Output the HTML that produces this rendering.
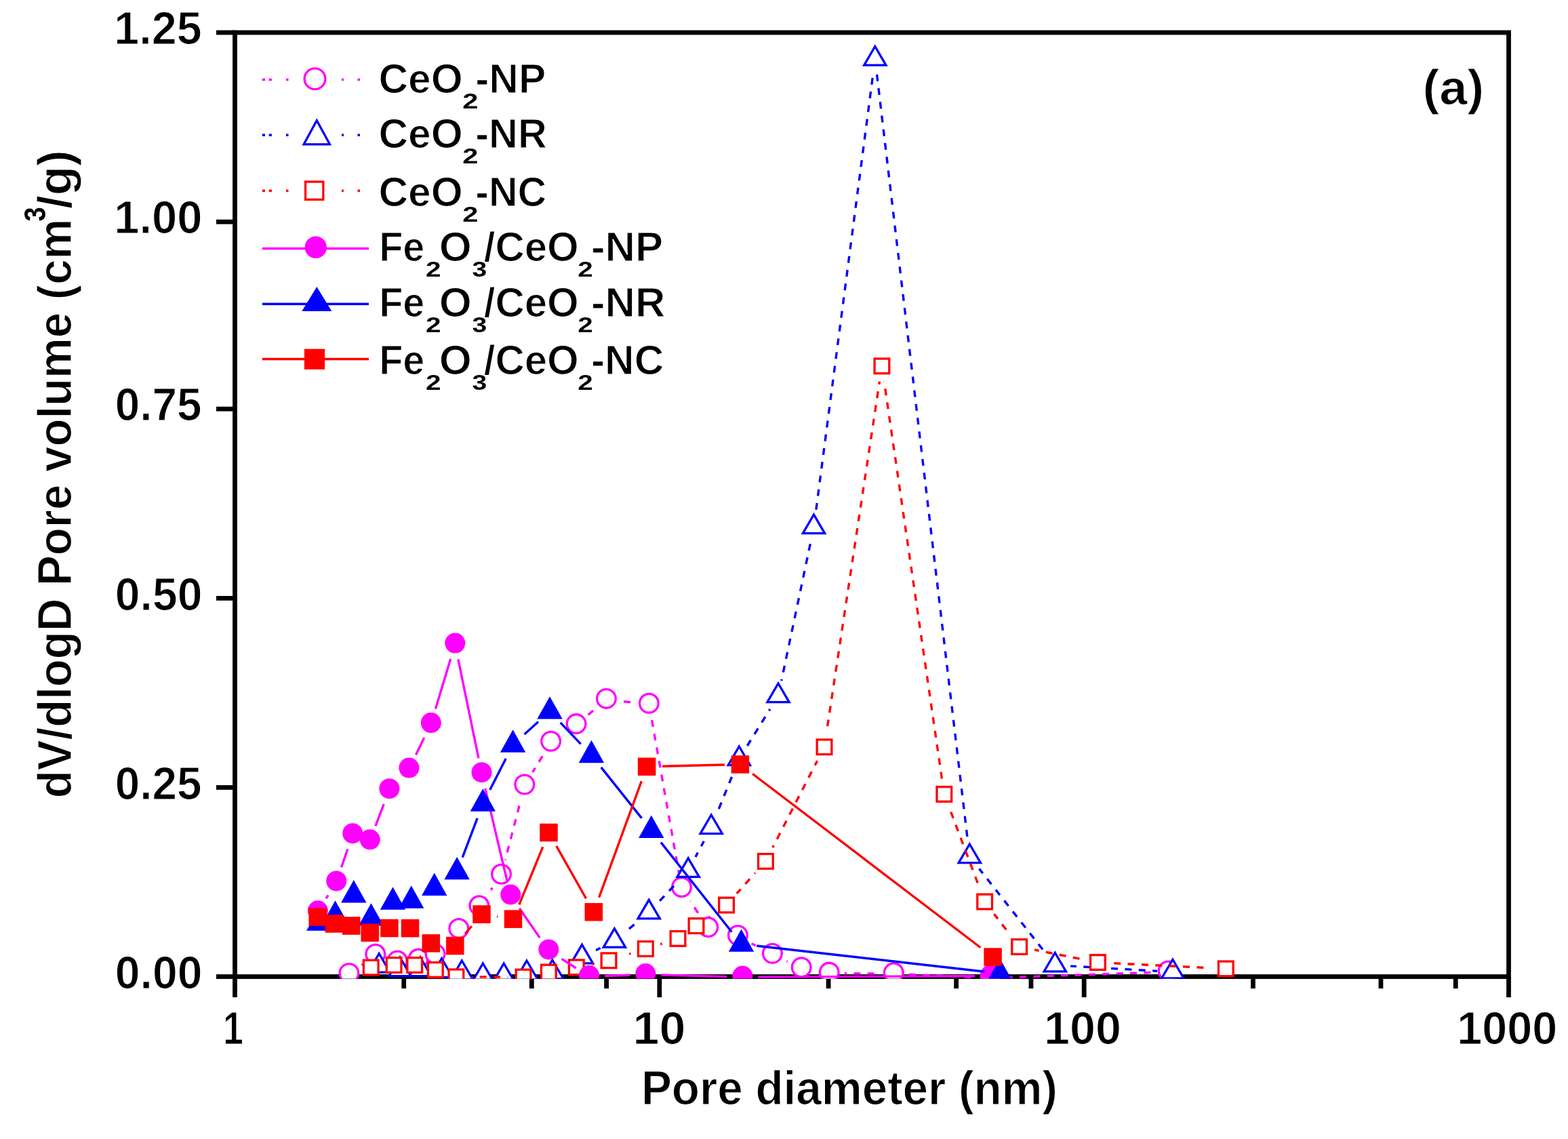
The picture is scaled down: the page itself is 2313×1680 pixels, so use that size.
<!DOCTYPE html><html><head><meta charset="utf-8"><title>Pore size distribution</title>
<style>html,body{margin:0;padding:0;background:#fff;overflow:hidden;}svg{display:block;}text{font-family:'Liberation Sans', Arial, sans-serif;font-weight:bold;fill:#000;stroke:#fff;stroke-width:1.2px;}</style></head><body>
<svg width="2313" height="1680" viewBox="0 0 2313 1680">
<rect width="2313" height="1680" fill="#fff"/>
<g stroke="#000" stroke-width="6.8" fill="none" stroke-linecap="butt">
<line x1="319" y1="1440.5" x2="346.5" y2="1440.5"/>
<line x1="319" y1="1161.5" x2="346.5" y2="1161.5"/>
<line x1="319" y1="882.4" x2="346.5" y2="882.4"/>
<line x1="319" y1="603.2" x2="346.5" y2="603.2"/>
<line x1="319" y1="327.2" x2="346.5" y2="327.2"/>
<line x1="319" y1="48" x2="346.5" y2="48"/>
<line x1="346.5" y1="1440.5" x2="346.5" y2="1471"/>
<line x1="595.74" y1="1440.5" x2="595.74" y2="1458"/>
<line x1="784.29" y1="1440.5" x2="784.29" y2="1458"/>
<line x1="894.58" y1="1440.5" x2="894.58" y2="1458"/>
<line x1="972.83" y1="1440.5" x2="972.83" y2="1471"/>
<line x1="1222.08" y1="1440.5" x2="1222.08" y2="1458"/>
<line x1="1410.62" y1="1440.5" x2="1410.62" y2="1458"/>
<line x1="1520.91" y1="1440.5" x2="1520.91" y2="1458"/>
<line x1="1599.17" y1="1440.5" x2="1599.17" y2="1471"/>
<line x1="1848.41" y1="1440.5" x2="1848.41" y2="1458"/>
<line x1="2036.95" y1="1440.5" x2="2036.95" y2="1458"/>
<line x1="2147.25" y1="1440.5" x2="2147.25" y2="1458"/>
<line x1="2225.5" y1="1440.5" x2="2225.5" y2="1471"/>
<rect x="346.5" y="48" width="1879" height="1392.5"/>
</g>
<text x="169.78" y="1457.6" font-size="68.8" textLength="128.73" lengthAdjust="spacingAndGlyphs">0.00</text>
<text x="169.8" y="1178.6" font-size="68.8" textLength="127.83" lengthAdjust="spacingAndGlyphs">0.25</text>
<text x="169.78" y="899.5" font-size="68.8" textLength="128.73" lengthAdjust="spacingAndGlyphs">0.50</text>
<text x="169.8" y="620.3" font-size="68.8" textLength="127.83" lengthAdjust="spacingAndGlyphs">0.75</text>
<text x="168.18" y="344.3" font-size="68.8" textLength="130.37" lengthAdjust="spacingAndGlyphs">1.00</text>
<text x="168.21" y="65.1" font-size="68.8" textLength="129.44" lengthAdjust="spacingAndGlyphs">1.25</text>
<text x="329.02" y="1540.2" font-size="68.8" textLength="29.88" lengthAdjust="spacingAndGlyphs">1</text>
<text x="933.59" y="1540.2" font-size="68.8" textLength="77.88" lengthAdjust="spacingAndGlyphs">10</text>
<text x="1539.9" y="1540.2" font-size="68.8" textLength="114.01" lengthAdjust="spacingAndGlyphs">100</text>
<text x="2149.21" y="1540.2" font-size="68.8" textLength="148.13" lengthAdjust="spacingAndGlyphs">1000</text>
<text x="945.89" y="1628.8" font-size="71.2" textLength="614.06" lengthAdjust="spacingAndGlyphs">Pore diameter (nm)</text>
<g transform="rotate(-90)"><text x="-1177.35" y="105.3" font-size="71.2" textLength="854.62" lengthAdjust="spacingAndGlyphs">dV/dlogD Pore volume (cm</text><text x="-326.57" y="66.5" font-size="44" textLength="21.15" lengthAdjust="spacingAndGlyphs" style="stroke:none">3</text><text x="-308.09" y="105.3" font-size="71.2" textLength="86.73" lengthAdjust="spacingAndGlyphs">/g)</text></g>
<text x="2098.6" y="154.2" font-size="71.5" textLength="90.69" lengthAdjust="spacingAndGlyphs">(a)</text>
<defs><clipPath id="plotclip"><rect x="343" y="44" width="1886" height="1399.5"/></clipPath><mask id="mk0" maskUnits="userSpaceOnUse" x="0" y="0" width="2313" height="1680"><rect width="2313" height="1680" fill="#fff"/><circle cx="514.9" cy="1437" r="23" fill="#000"/><circle cx="553.8" cy="1408.8" r="23" fill="#000"/><circle cx="586.2" cy="1418.5" r="23" fill="#000"/><circle cx="617.1" cy="1415.6" r="23" fill="#000"/><circle cx="642" cy="1408.5" r="23" fill="#000"/><circle cx="676.8" cy="1371" r="23" fill="#000"/><circle cx="706.9" cy="1337.3" r="23" fill="#000"/><circle cx="739.5" cy="1290.8" r="23" fill="#000"/><circle cx="773.8" cy="1158.5" r="23" fill="#000"/><circle cx="812.6" cy="1094.8" r="23" fill="#000"/><circle cx="850.1" cy="1069.1" r="23" fill="#000"/><circle cx="894.4" cy="1031.9" r="23" fill="#000"/><circle cx="957.4" cy="1038.8" r="23" fill="#000"/><circle cx="1005.5" cy="1310" r="23" fill="#000"/><circle cx="1044.7" cy="1369.1" r="23" fill="#000"/><circle cx="1088.4" cy="1381" r="23" fill="#000"/><circle cx="1139.4" cy="1407.8" r="23" fill="#000"/><circle cx="1182.2" cy="1428.3" r="23" fill="#000"/><circle cx="1223.2" cy="1435.6" r="23" fill="#000"/><circle cx="1318.3" cy="1436.3" r="23" fill="#000"/><circle cx="1461" cy="1442.5" r="23" fill="#000"/><circle cx="1723.2" cy="1433.5" r="23" fill="#000"/></mask><mask id="mk1" maskUnits="userSpaceOnUse" x="0" y="0" width="2313" height="1680"><rect width="2313" height="1680" fill="#fff"/><circle cx="559.2" cy="1424.9" r="23" fill="#000"/><circle cx="590" cy="1430.4" r="23" fill="#000"/><circle cx="620" cy="1430.4" r="23" fill="#000"/><circle cx="651.5" cy="1432.1" r="23" fill="#000"/><circle cx="681.3" cy="1435.4" r="23" fill="#000"/><circle cx="712.4" cy="1439.4" r="23" fill="#000"/><circle cx="743.2" cy="1439.4" r="23" fill="#000"/><circle cx="777" cy="1435.4" r="23" fill="#000"/><circle cx="814.8" cy="1434.4" r="23" fill="#000"/><circle cx="858.5" cy="1411.7" r="23" fill="#000"/><circle cx="906.4" cy="1388" r="23" fill="#000"/><circle cx="957.2" cy="1345.7" r="23" fill="#000"/><circle cx="1015.2" cy="1284.2" r="23" fill="#000"/><circle cx="1049.2" cy="1220.4" r="23" fill="#000"/><circle cx="1090.3" cy="1119.4" r="23" fill="#000"/><circle cx="1148" cy="1026.4" r="23" fill="#000"/><circle cx="1200.5" cy="777.4" r="23" fill="#000"/><circle cx="1290.8" cy="86.9" r="23" fill="#000"/><circle cx="1430.3" cy="1263.4" r="23" fill="#000"/><circle cx="1556.3" cy="1423.6" r="23" fill="#000"/><circle cx="1729.9" cy="1433.6" r="23" fill="#000"/></mask><mask id="mk2" maskUnits="userSpaceOnUse" x="0" y="0" width="2313" height="1680"><rect width="2313" height="1680" fill="#fff"/><circle cx="547.2" cy="1427.1" r="23" fill="#000"/><circle cx="581.1" cy="1423.5" r="23" fill="#000"/><circle cx="611.7" cy="1423.5" r="23" fill="#000"/><circle cx="642.3" cy="1430.4" r="23" fill="#000"/><circle cx="672.9" cy="1440.8" r="23" fill="#000"/><circle cx="772" cy="1441" r="23" fill="#000"/><circle cx="809.3" cy="1434" r="23" fill="#000"/><circle cx="850.3" cy="1426.8" r="23" fill="#000"/><circle cx="898" cy="1416.8" r="23" fill="#000"/><circle cx="952.3" cy="1399.5" r="23" fill="#000"/><circle cx="1000" cy="1384.4" r="23" fill="#000"/><circle cx="1027" cy="1365.6" r="23" fill="#000"/><circle cx="1071.5" cy="1335" r="23" fill="#000"/><circle cx="1129.4" cy="1270.4" r="23" fill="#000"/><circle cx="1216" cy="1101.8" r="23" fill="#000"/><circle cx="1300.9" cy="539.9" r="23" fill="#000"/><circle cx="1392.8" cy="1171.4" r="23" fill="#000"/><circle cx="1452.6" cy="1330" r="23" fill="#000"/><circle cx="1503.6" cy="1396.5" r="23" fill="#000"/><circle cx="1619.4" cy="1419.5" r="23" fill="#000"/><circle cx="1808.3" cy="1428.9" r="23" fill="#000"/></mask><mask id="mk3" maskUnits="userSpaceOnUse" x="0" y="0" width="2313" height="1680"><rect width="2313" height="1680" fill="#fff"/><circle cx="468.9" cy="1344.8" r="23" fill="#000"/><circle cx="496.2" cy="1300.9" r="23" fill="#000"/><circle cx="520.2" cy="1230.7" r="23" fill="#000"/><circle cx="545.7" cy="1239.8" r="23" fill="#000"/><circle cx="574.4" cy="1164.7" r="23" fill="#000"/><circle cx="603.4" cy="1134.1" r="23" fill="#000"/><circle cx="635.8" cy="1067.6" r="23" fill="#000"/><circle cx="671.3" cy="950.1" r="23" fill="#000"/><circle cx="710.5" cy="1140.7" r="23" fill="#000"/><circle cx="753.2" cy="1321" r="23" fill="#000"/><circle cx="809.3" cy="1401.9" r="23" fill="#000"/><circle cx="869" cy="1440.2" r="23" fill="#000"/><circle cx="952.3" cy="1437.5" r="23" fill="#000"/><circle cx="1095.3" cy="1441.1" r="23" fill="#000"/><circle cx="1461" cy="1439.5" r="23" fill="#000"/></mask><mask id="mk4" maskUnits="userSpaceOnUse" x="0" y="0" width="2313" height="1680"><rect width="2313" height="1680" fill="#fff"/><circle cx="470.7" cy="1361.4" r="23" fill="#000"/><circle cx="494.5" cy="1350.4" r="23" fill="#000"/><circle cx="521.8" cy="1320.1" r="23" fill="#000"/><circle cx="547.4" cy="1354.3" r="23" fill="#000"/><circle cx="579.5" cy="1330.4" r="23" fill="#000"/><circle cx="606.7" cy="1328.4" r="23" fill="#000"/><circle cx="640.7" cy="1309.7" r="23" fill="#000"/><circle cx="674.1" cy="1286" r="23" fill="#000"/><circle cx="712.3" cy="1185.4" r="23" fill="#000"/><circle cx="756.6" cy="1098.4" r="23" fill="#000"/><circle cx="811" cy="1049.3" r="23" fill="#000"/><circle cx="872.4" cy="1113.9" r="23" fill="#000"/><circle cx="960.8" cy="1224.6" r="23" fill="#000"/><circle cx="1093.5" cy="1392.5" r="23" fill="#000"/><circle cx="1475" cy="1435.8" r="23" fill="#000"/></mask><mask id="mk5" maskUnits="userSpaceOnUse" x="0" y="0" width="2313" height="1680"><rect width="2313" height="1680" fill="#fff"/><circle cx="468.7" cy="1352.4" r="23" fill="#000"/><circle cx="492.8" cy="1362.4" r="23" fill="#000"/><circle cx="518.2" cy="1365.5" r="23" fill="#000"/><circle cx="545.7" cy="1375.7" r="23" fill="#000"/><circle cx="574.4" cy="1369" r="23" fill="#000"/><circle cx="605" cy="1369.1" r="23" fill="#000"/><circle cx="635.8" cy="1391.3" r="23" fill="#000"/><circle cx="671.3" cy="1395" r="23" fill="#000"/><circle cx="710.5" cy="1348.5" r="23" fill="#000"/><circle cx="757" cy="1355.6" r="23" fill="#000"/><circle cx="809.5" cy="1228" r="23" fill="#000"/><circle cx="875.8" cy="1345.2" r="23" fill="#000"/><circle cx="954.1" cy="1130.8" r="23" fill="#000"/><circle cx="1091.9" cy="1127.5" r="23" fill="#000"/><circle cx="1464.6" cy="1411.5" r="23" fill="#000"/></mask></defs>
<g clip-path="url(#plotclip)">
<path d="M514.9,1437 L553.8,1408.8 L586.2,1418.5 L617.1,1415.6 L642,1408.5 L676.8,1371 L706.9,1337.3 L739.5,1290.8 L773.8,1158.5 L812.6,1094.8 L850.1,1069.1 L894.4,1031.9 L957.4,1038.8 L1005.5,1310 L1044.7,1369.1 L1088.4,1381 L1139.4,1407.8 L1182.2,1428.3 L1223.2,1435.6 L1318.3,1436.3 L1461,1442.5 L1723.2,1433.5" fill="none" stroke="#ff00ff" stroke-width="3.4" stroke-dasharray="10 10.4" mask="url(#mk0)"/>
<circle cx="514.9" cy="1435.5" r="13.85" fill="#fff" stroke="#ff00ff" stroke-width="3.3"/><circle cx="553.8" cy="1407.3" r="13.85" fill="#fff" stroke="#ff00ff" stroke-width="3.3"/><circle cx="586.2" cy="1417" r="13.85" fill="#fff" stroke="#ff00ff" stroke-width="3.3"/><circle cx="617.1" cy="1414.1" r="13.85" fill="#fff" stroke="#ff00ff" stroke-width="3.3"/><circle cx="642" cy="1407" r="13.85" fill="#fff" stroke="#ff00ff" stroke-width="3.3"/><circle cx="676.8" cy="1369.5" r="13.85" fill="#fff" stroke="#ff00ff" stroke-width="3.3"/><circle cx="706.9" cy="1335.8" r="13.85" fill="#fff" stroke="#ff00ff" stroke-width="3.3"/><circle cx="739.5" cy="1289.3" r="13.85" fill="#fff" stroke="#ff00ff" stroke-width="3.3"/><circle cx="773.8" cy="1157" r="13.85" fill="#fff" stroke="#ff00ff" stroke-width="3.3"/><circle cx="812.6" cy="1093.3" r="13.85" fill="#fff" stroke="#ff00ff" stroke-width="3.3"/><circle cx="850.1" cy="1067.6" r="13.85" fill="#fff" stroke="#ff00ff" stroke-width="3.3"/><circle cx="894.4" cy="1030.4" r="13.85" fill="#fff" stroke="#ff00ff" stroke-width="3.3"/><circle cx="957.4" cy="1037.3" r="13.85" fill="#fff" stroke="#ff00ff" stroke-width="3.3"/><circle cx="1005.5" cy="1308.5" r="13.85" fill="#fff" stroke="#ff00ff" stroke-width="3.3"/><circle cx="1044.7" cy="1367.6" r="13.85" fill="#fff" stroke="#ff00ff" stroke-width="3.3"/><circle cx="1088.4" cy="1379.5" r="13.85" fill="#fff" stroke="#ff00ff" stroke-width="3.3"/><circle cx="1139.4" cy="1406.3" r="13.85" fill="#fff" stroke="#ff00ff" stroke-width="3.3"/><circle cx="1182.2" cy="1426.8" r="13.85" fill="#fff" stroke="#ff00ff" stroke-width="3.3"/><circle cx="1223.2" cy="1434.1" r="13.85" fill="#fff" stroke="#ff00ff" stroke-width="3.3"/><circle cx="1318.3" cy="1434.8" r="13.85" fill="#fff" stroke="#ff00ff" stroke-width="3.3"/><circle cx="1461" cy="1441" r="13.85" fill="#fff" stroke="#ff00ff" stroke-width="3.3"/><circle cx="1723.2" cy="1432" r="13.85" fill="#fff" stroke="#ff00ff" stroke-width="3.3"/>
<path d="M559.2,1424.9 L590,1430.4 L620,1430.4 L651.5,1432.1 L681.3,1435.4 L712.4,1439.4 L743.2,1439.4 L777,1435.4 L814.8,1434.4 L858.5,1411.7 L906.4,1388 L957.2,1345.7 L1015.2,1284.2 L1049.2,1220.4 L1090.3,1119.4 L1148,1026.4 L1200.5,777.4 L1290.8,86.9 L1430.3,1263.4 L1556.3,1423.6 L1729.9,1433.6" fill="none" stroke="#0000ff" stroke-width="3.4" stroke-dasharray="10 10.4" mask="url(#mk1)"/>
<polygon points="559.2,1406.52 575.34,1434.08 543.06,1434.08" fill="#fff" stroke="#0000ff" stroke-width="3.3" stroke-linejoin="miter" stroke-miterlimit="6"/><polygon points="590,1412.02 606.14,1439.58 573.86,1439.58" fill="#fff" stroke="#0000ff" stroke-width="3.3" stroke-linejoin="miter" stroke-miterlimit="6"/><polygon points="620,1412.02 636.14,1439.58 603.86,1439.58" fill="#fff" stroke="#0000ff" stroke-width="3.3" stroke-linejoin="miter" stroke-miterlimit="6"/><polygon points="651.5,1413.72 667.64,1441.28 635.36,1441.28" fill="#fff" stroke="#0000ff" stroke-width="3.3" stroke-linejoin="miter" stroke-miterlimit="6"/><polygon points="681.3,1417.02 697.44,1444.58 665.16,1444.58" fill="#fff" stroke="#0000ff" stroke-width="3.3" stroke-linejoin="miter" stroke-miterlimit="6"/><polygon points="712.4,1421.02 728.54,1448.58 696.26,1448.58" fill="#fff" stroke="#0000ff" stroke-width="3.3" stroke-linejoin="miter" stroke-miterlimit="6"/><polygon points="743.2,1421.02 759.34,1448.58 727.06,1448.58" fill="#fff" stroke="#0000ff" stroke-width="3.3" stroke-linejoin="miter" stroke-miterlimit="6"/><polygon points="777,1417.02 793.14,1444.58 760.86,1444.58" fill="#fff" stroke="#0000ff" stroke-width="3.3" stroke-linejoin="miter" stroke-miterlimit="6"/><polygon points="814.8,1416.02 830.94,1443.58 798.66,1443.58" fill="#fff" stroke="#0000ff" stroke-width="3.3" stroke-linejoin="miter" stroke-miterlimit="6"/><polygon points="858.5,1393.32 874.64,1420.88 842.36,1420.88" fill="#fff" stroke="#0000ff" stroke-width="3.3" stroke-linejoin="miter" stroke-miterlimit="6"/><polygon points="906.4,1369.62 922.54,1397.17 890.26,1397.17" fill="#fff" stroke="#0000ff" stroke-width="3.3" stroke-linejoin="miter" stroke-miterlimit="6"/><polygon points="957.2,1327.32 973.34,1354.88 941.06,1354.88" fill="#fff" stroke="#0000ff" stroke-width="3.3" stroke-linejoin="miter" stroke-miterlimit="6"/><polygon points="1015.2,1265.82 1031.34,1293.38 999.06,1293.38" fill="#fff" stroke="#0000ff" stroke-width="3.3" stroke-linejoin="miter" stroke-miterlimit="6"/><polygon points="1049.2,1202.02 1065.34,1229.58 1033.06,1229.58" fill="#fff" stroke="#0000ff" stroke-width="3.3" stroke-linejoin="miter" stroke-miterlimit="6"/><polygon points="1090.3,1101.02 1106.44,1128.58 1074.16,1128.58" fill="#fff" stroke="#0000ff" stroke-width="3.3" stroke-linejoin="miter" stroke-miterlimit="6"/><polygon points="1148,1008.02 1164.14,1035.58 1131.86,1035.58" fill="#fff" stroke="#0000ff" stroke-width="3.3" stroke-linejoin="miter" stroke-miterlimit="6"/><polygon points="1200.5,759.02 1216.64,786.57 1184.36,786.57" fill="#fff" stroke="#0000ff" stroke-width="3.3" stroke-linejoin="miter" stroke-miterlimit="6"/><polygon points="1290.8,68.52 1306.94,96.08 1274.66,96.08" fill="#fff" stroke="#0000ff" stroke-width="3.3" stroke-linejoin="miter" stroke-miterlimit="6"/><polygon points="1430.3,1245.02 1446.44,1272.58 1414.16,1272.58" fill="#fff" stroke="#0000ff" stroke-width="3.3" stroke-linejoin="miter" stroke-miterlimit="6"/><polygon points="1556.3,1405.22 1572.44,1432.78 1540.16,1432.78" fill="#fff" stroke="#0000ff" stroke-width="3.3" stroke-linejoin="miter" stroke-miterlimit="6"/><polygon points="1729.9,1415.22 1746.04,1442.78 1713.76,1442.78" fill="#fff" stroke="#0000ff" stroke-width="3.3" stroke-linejoin="miter" stroke-miterlimit="6"/>
<path d="M547.2,1427.1 L581.1,1423.5 L611.7,1423.5 L642.3,1430.4 L672.9,1440.8 L772,1441 L809.3,1434 L850.3,1426.8 L898,1416.8 L952.3,1399.5 L1000,1384.4 L1027,1365.6 L1071.5,1335 L1129.4,1270.4 L1216,1101.8 L1300.9,539.9 L1392.8,1171.4 L1452.6,1330 L1503.6,1396.5 L1619.4,1419.5 L1808.3,1428.9" fill="none" stroke="#ff0000" stroke-width="3.4" stroke-dasharray="10 10.4" mask="url(#mk2)"/>
<rect x="536.35" y="1416.25" width="21.7" height="21.7" fill="#fff" stroke="#ff0000" stroke-width="3.3"/><rect x="570.25" y="1412.65" width="21.7" height="21.7" fill="#fff" stroke="#ff0000" stroke-width="3.3"/><rect x="600.85" y="1412.65" width="21.7" height="21.7" fill="#fff" stroke="#ff0000" stroke-width="3.3"/><rect x="631.45" y="1419.55" width="21.7" height="21.7" fill="#fff" stroke="#ff0000" stroke-width="3.3"/><rect x="662.05" y="1429.95" width="21.7" height="21.7" fill="#fff" stroke="#ff0000" stroke-width="3.3"/><rect x="761.15" y="1430.15" width="21.7" height="21.7" fill="#fff" stroke="#ff0000" stroke-width="3.3"/><rect x="798.45" y="1423.15" width="21.7" height="21.7" fill="#fff" stroke="#ff0000" stroke-width="3.3"/><rect x="839.45" y="1415.95" width="21.7" height="21.7" fill="#fff" stroke="#ff0000" stroke-width="3.3"/><rect x="887.15" y="1405.95" width="21.7" height="21.7" fill="#fff" stroke="#ff0000" stroke-width="3.3"/><rect x="941.45" y="1388.65" width="21.7" height="21.7" fill="#fff" stroke="#ff0000" stroke-width="3.3"/><rect x="989.15" y="1373.55" width="21.7" height="21.7" fill="#fff" stroke="#ff0000" stroke-width="3.3"/><rect x="1016.15" y="1354.75" width="21.7" height="21.7" fill="#fff" stroke="#ff0000" stroke-width="3.3"/><rect x="1060.65" y="1324.15" width="21.7" height="21.7" fill="#fff" stroke="#ff0000" stroke-width="3.3"/><rect x="1118.55" y="1259.55" width="21.7" height="21.7" fill="#fff" stroke="#ff0000" stroke-width="3.3"/><rect x="1205.15" y="1090.95" width="21.7" height="21.7" fill="#fff" stroke="#ff0000" stroke-width="3.3"/><rect x="1290.05" y="529.05" width="21.7" height="21.7" fill="#fff" stroke="#ff0000" stroke-width="3.3"/><rect x="1381.95" y="1160.55" width="21.7" height="21.7" fill="#fff" stroke="#ff0000" stroke-width="3.3"/><rect x="1441.75" y="1319.15" width="21.7" height="21.7" fill="#fff" stroke="#ff0000" stroke-width="3.3"/><rect x="1492.75" y="1385.65" width="21.7" height="21.7" fill="#fff" stroke="#ff0000" stroke-width="3.3"/><rect x="1608.55" y="1408.65" width="21.7" height="21.7" fill="#fff" stroke="#ff0000" stroke-width="3.3"/><rect x="1797.45" y="1418.05" width="21.7" height="21.7" fill="#fff" stroke="#ff0000" stroke-width="3.3"/>
<path d="M468.9,1344.8 L496.2,1300.9 L520.2,1230.7 L545.7,1239.8 L574.4,1164.7 L603.4,1134.1 L635.8,1067.6 L671.3,950.1 L710.5,1140.7 L753.2,1321 L809.3,1401.9 L869,1440.2 L952.3,1437.5 L1095.3,1441.1 L1461,1439.5" fill="none" stroke="#ff00ff" stroke-width="3.4" stroke-linejoin="round" mask="url(#mk3)"/>
<circle cx="468.9" cy="1343.3" r="15" fill="#ff00ff"/><circle cx="496.2" cy="1299.4" r="15" fill="#ff00ff"/><circle cx="520.2" cy="1229.2" r="15" fill="#ff00ff"/><circle cx="545.7" cy="1238.3" r="15" fill="#ff00ff"/><circle cx="574.4" cy="1163.2" r="15" fill="#ff00ff"/><circle cx="603.4" cy="1132.6" r="15" fill="#ff00ff"/><circle cx="635.8" cy="1066.1" r="15" fill="#ff00ff"/><circle cx="671.3" cy="948.6" r="15" fill="#ff00ff"/><circle cx="710.5" cy="1139.2" r="15" fill="#ff00ff"/><circle cx="753.2" cy="1319.5" r="15" fill="#ff00ff"/><circle cx="809.3" cy="1400.4" r="15" fill="#ff00ff"/><circle cx="869" cy="1438.7" r="15" fill="#ff00ff"/><circle cx="952.3" cy="1436" r="15" fill="#ff00ff"/><circle cx="1095.3" cy="1439.6" r="15" fill="#ff00ff"/><circle cx="1461" cy="1438" r="15" fill="#ff00ff"/>
<path d="M470.7,1361.4 L494.5,1350.4 L521.8,1320.1 L547.4,1354.3 L579.5,1330.4 L606.7,1328.4 L640.7,1309.7 L674.1,1286 L712.3,1185.4 L756.6,1098.4 L811,1049.3 L872.4,1113.9 L960.8,1224.6 L1093.5,1392.5 L1475,1435.8" fill="none" stroke="#0000ff" stroke-width="3.4" stroke-linejoin="round" mask="url(#mk4)"/>
<polygon points="470.7,1339.3 489.4,1372.7 452,1372.7" fill="#0000ff"/><polygon points="494.5,1328.3 513.2,1361.7 475.8,1361.7" fill="#0000ff"/><polygon points="521.8,1298 540.5,1331.4 503.1,1331.4" fill="#0000ff"/><polygon points="547.4,1332.2 566.1,1365.6 528.7,1365.6" fill="#0000ff"/><polygon points="579.5,1308.3 598.2,1341.7 560.8,1341.7" fill="#0000ff"/><polygon points="606.7,1306.3 625.4,1339.7 588,1339.7" fill="#0000ff"/><polygon points="640.7,1287.6 659.4,1321 622,1321" fill="#0000ff"/><polygon points="674.1,1263.9 692.8,1297.3 655.4,1297.3" fill="#0000ff"/><polygon points="712.3,1163.3 731,1196.7 693.6,1196.7" fill="#0000ff"/><polygon points="756.6,1076.3 775.3,1109.7 737.9,1109.7" fill="#0000ff"/><polygon points="811,1027.2 829.7,1060.6 792.3,1060.6" fill="#0000ff"/><polygon points="872.4,1091.8 891.1,1125.2 853.7,1125.2" fill="#0000ff"/><polygon points="960.8,1202.5 979.5,1235.9 942.1,1235.9" fill="#0000ff"/><polygon points="1093.5,1370.4 1112.2,1403.8 1074.8,1403.8" fill="#0000ff"/><polygon points="1475,1413.7 1493.7,1447.1 1456.3,1447.1" fill="#0000ff"/>
<path d="M468.7,1352.4 L492.8,1362.4 L518.2,1365.5 L545.7,1375.7 L574.4,1369 L605,1369.1 L635.8,1391.3 L671.3,1395 L710.5,1348.5 L757,1355.6 L809.5,1228 L875.8,1345.2 L954.1,1130.8 L1091.9,1127.5 L1464.6,1411.5" fill="none" stroke="#ff0000" stroke-width="3.4" stroke-linejoin="round" mask="url(#mk5)"/>
<rect x="455.45" y="1339.15" width="26.5" height="26.5" fill="#ff0000"/><rect x="479.55" y="1349.15" width="26.5" height="26.5" fill="#ff0000"/><rect x="504.95" y="1352.25" width="26.5" height="26.5" fill="#ff0000"/><rect x="532.45" y="1362.45" width="26.5" height="26.5" fill="#ff0000"/><rect x="561.15" y="1355.75" width="26.5" height="26.5" fill="#ff0000"/><rect x="591.75" y="1355.85" width="26.5" height="26.5" fill="#ff0000"/><rect x="622.55" y="1378.05" width="26.5" height="26.5" fill="#ff0000"/><rect x="658.05" y="1381.75" width="26.5" height="26.5" fill="#ff0000"/><rect x="697.25" y="1335.25" width="26.5" height="26.5" fill="#ff0000"/><rect x="743.75" y="1342.35" width="26.5" height="26.5" fill="#ff0000"/><rect x="796.25" y="1214.75" width="26.5" height="26.5" fill="#ff0000"/><rect x="862.55" y="1331.95" width="26.5" height="26.5" fill="#ff0000"/><rect x="940.85" y="1117.55" width="26.5" height="26.5" fill="#ff0000"/><rect x="1078.65" y="1114.25" width="26.5" height="26.5" fill="#ff0000"/><rect x="1451.35" y="1398.25" width="26.5" height="26.5" fill="#ff0000"/>
</g>
<rect x="386.8" y="115.7" width="4.2" height="3.6" fill="#ff00ff"/>
<rect x="396.7" y="115.7" width="4.2" height="3.6" fill="#ff00ff"/>
<rect x="422" y="115.7" width="3.5" height="3.6" fill="#ff00ff"/>
<rect x="504" y="115.7" width="3" height="3.6" fill="#ff00ff"/>
<rect x="527.5" y="115.7" width="3.5" height="3.6" fill="#ff00ff"/>
<rect x="386.8" y="197.4" width="4.2" height="3.6" fill="#0000ff"/>
<rect x="396.7" y="197.4" width="4.2" height="3.6" fill="#0000ff"/>
<rect x="422" y="197.4" width="3.5" height="3.6" fill="#0000ff"/>
<rect x="504" y="197.4" width="3" height="3.6" fill="#0000ff"/>
<rect x="527.5" y="197.4" width="3.5" height="3.6" fill="#0000ff"/>
<rect x="386.8" y="279.6" width="4.2" height="3.6" fill="#ff0000"/>
<rect x="396.7" y="279.6" width="4.2" height="3.6" fill="#ff0000"/>
<rect x="422" y="279.6" width="3.5" height="3.6" fill="#ff0000"/>
<rect x="504" y="279.6" width="3" height="3.6" fill="#ff0000"/>
<rect x="527.5" y="279.6" width="3.5" height="3.6" fill="#ff0000"/>
<rect x="386.8" y="364.85" width="157.2" height="3.5" fill="#ff00ff"/>
<rect x="386.8" y="446.65" width="157.2" height="3.5" fill="#0000ff"/>
<rect x="386.8" y="527.85" width="157.2" height="3.5" fill="#ff0000"/>
<circle cx="464.5" cy="116.2" r="15.35" fill="#fff" stroke="#ff00ff" stroke-width="3.3"/>
<polygon points="467.3,177.78 486.44,212.83 448.16,212.83" fill="#fff" stroke="#0000ff" stroke-width="3.3" stroke-linejoin="miter" stroke-miterlimit="6"/>
<rect x="450.55" y="268.05" width="26.3" height="26.3" fill="#fff" stroke="#ff0000" stroke-width="3.3"/>
<circle cx="465.8" cy="364.8" r="16.2" fill="#ff00ff"/>
<polygon points="467.3,423 489.3,459 445.3,459" fill="#0000ff"/>
<rect x="448.9" y="514.7" width="30.2" height="30.2" fill="#ff0000"/>
<text x="558.42" y="137.2" font-size="60.3" textLength="124.21" lengthAdjust="spacingAndGlyphs">CeO</text><text x="682.16" y="160.2" font-size="31.6" textLength="23.1" lengthAdjust="spacingAndGlyphs" style="stroke:none">2</text><text x="701.24" y="137.2" font-size="60.3" textLength="103.92" lengthAdjust="spacingAndGlyphs">-NP</text>
<text x="558.42" y="218.4" font-size="60.3" textLength="124.21" lengthAdjust="spacingAndGlyphs">CeO</text><text x="682.16" y="241.4" font-size="31.6" textLength="23.1" lengthAdjust="spacingAndGlyphs" style="stroke:none">2</text><text x="701.28" y="218.4" font-size="60.3" textLength="105.54" lengthAdjust="spacingAndGlyphs">-NR</text>
<text x="558.42" y="303.7" font-size="60.3" textLength="124.21" lengthAdjust="spacingAndGlyphs">CeO</text><text x="682.16" y="326.7" font-size="31.6" textLength="23.1" lengthAdjust="spacingAndGlyphs" style="stroke:none">2</text><text x="701.29" y="303.7" font-size="60.3" textLength="104.92" lengthAdjust="spacingAndGlyphs">-NC</text>
<text x="559.15" y="385.3" font-size="60.3" textLength="67.11" lengthAdjust="spacingAndGlyphs">Fe</text><text x="628.1" y="408.3" font-size="31.6" textLength="22.53" lengthAdjust="spacingAndGlyphs" style="stroke:none">2</text><text x="647.77" y="385.3" font-size="60.3" textLength="48.03" lengthAdjust="spacingAndGlyphs">O</text><text x="696.5" y="408.3" font-size="31.6" textLength="21.71" lengthAdjust="spacingAndGlyphs" style="stroke:none">3</text><text x="713.71" y="385.3" font-size="60.3" textLength="140.11" lengthAdjust="spacingAndGlyphs">/CeO</text><text x="852.2" y="408.3" font-size="31.6" textLength="22.41" lengthAdjust="spacingAndGlyphs" style="stroke:none">2</text><text x="871.99" y="385.3" font-size="60.3" textLength="106.22" lengthAdjust="spacingAndGlyphs">-NP</text>
<text x="559.15" y="467.2" font-size="60.3" textLength="67.11" lengthAdjust="spacingAndGlyphs">Fe</text><text x="628.1" y="490.2" font-size="31.6" textLength="22.53" lengthAdjust="spacingAndGlyphs" style="stroke:none">2</text><text x="647.77" y="467.2" font-size="60.3" textLength="48.03" lengthAdjust="spacingAndGlyphs">O</text><text x="696.5" y="490.2" font-size="31.6" textLength="21.71" lengthAdjust="spacingAndGlyphs" style="stroke:none">3</text><text x="713.71" y="467.2" font-size="60.3" textLength="140.11" lengthAdjust="spacingAndGlyphs">/CeO</text><text x="852.2" y="490.2" font-size="31.6" textLength="22.41" lengthAdjust="spacingAndGlyphs" style="stroke:none">2</text><text x="872" y="467.2" font-size="60.3" textLength="109.37" lengthAdjust="spacingAndGlyphs">-NR</text>
<text x="559.15" y="552.2" font-size="60.3" textLength="67.11" lengthAdjust="spacingAndGlyphs">Fe</text><text x="628.1" y="575.2" font-size="31.6" textLength="22.53" lengthAdjust="spacingAndGlyphs" style="stroke:none">2</text><text x="647.77" y="552.2" font-size="60.3" textLength="48.03" lengthAdjust="spacingAndGlyphs">O</text><text x="696.5" y="575.2" font-size="31.6" textLength="21.71" lengthAdjust="spacingAndGlyphs" style="stroke:none">3</text><text x="713.71" y="552.2" font-size="60.3" textLength="140.11" lengthAdjust="spacingAndGlyphs">/CeO</text><text x="852.2" y="575.2" font-size="31.6" textLength="22.41" lengthAdjust="spacingAndGlyphs" style="stroke:none">2</text><text x="872.04" y="552.2" font-size="60.3" textLength="107.21" lengthAdjust="spacingAndGlyphs">-NC</text>
</svg></body></html>
